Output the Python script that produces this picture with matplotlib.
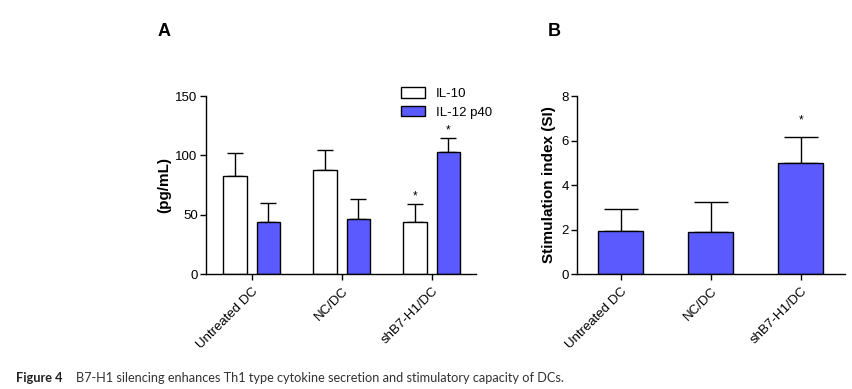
import numpy as np
import matplotlib.pyplot as plt

plt.rcParams['font.family'] = ['Liberation Sans', 'DejaVu Sans']

groups = ["Untreated DC", "NC/DC", "shB7-H1/DC"]

# panel A: cytokines (pg/mL), mean and upper error
il10 = [82.8, 87.4, 44.1]
il10_err = [19.4, 16.8, 14.6]
il12 = [44.1, 46.1, 102.5]
il12_err = [15.5, 16.8, 11.8]

# panel B: stimulation index
si = [1.93, 1.89, 4.99]
si_err = [0.99, 1.35, 1.17]

blue = "#5a5aff"

fig = plt.figure(figsize=(8.53, 3.89), dpi=100)

# ---- panel A
axA = fig.add_axes([0.2415, 0.2956, 0.3165, 0.4576])
x = np.arange(len(groups))
off = 0.185
w = 0.26
axA.bar(x - off, il10, w, color="white", edgecolor="black", linewidth=1, label="IL-10", zorder=2)
axA.bar(x + off, il12, w, color=blue, edgecolor="black", linewidth=1, label="IL-12 p40", zorder=2)
axA.errorbar(x - off, il10, yerr=[np.zeros(3), il10_err], fmt="none", ecolor="black",
             elinewidth=1, capsize=6, capthick=1, zorder=1)
axA.errorbar(x + off, il12, yerr=[np.zeros(3), il12_err], fmt="none", ecolor="black",
             elinewidth=1, capsize=6, capthick=1, zorder=1)
axA.text(2 - off, il10[2] + il10_err[2] + 2, "*", ha="center", va="bottom", fontsize=8.5)
axA.text(2 + off, il12[2] + il12_err[2] + 2, "*", ha="center", va="bottom", fontsize=8.5)
axA.set_ylim(0, 150)
axA.set_yticks([0, 50, 100, 150])
axA.set_xlim(-0.506, 2.49)
axA.set_ylabel("(pg/mL)", fontsize=11, fontweight="bold", labelpad=3)
axA.legend(loc="upper left", bbox_to_anchor=(0.68, 1.115), frameon=False, fontsize=9.5,
           handlelength=1.8, handleheight=0.8, labelspacing=0.45, handletextpad=0.8)
axA.text(-0.18, 1.36, "A", transform=axA.transAxes, fontsize=13, fontweight="bold", va="center")

# ---- panel B
axB = fig.add_axes([0.6764, 0.2956, 0.3142, 0.4576])
axB.bar(x, si, 0.5, color=blue, edgecolor="black", linewidth=1, zorder=2)
axB.errorbar(x, si, yerr=[np.zeros(3), si_err], fmt="none", ecolor="black",
             elinewidth=1, capsize=12, capthick=1, zorder=1)
axB.text(2, si[2] + si_err[2] + 0.45, "*", ha="center", va="bottom", fontsize=8.5)
axB.set_ylim(0, 8)
axB.set_yticks([0, 2, 4, 6, 8])
axB.set_xlim(-0.483, 2.49)
axB.set_ylabel("Stimulation index (SI)", fontsize=11, fontweight="bold", labelpad=4)
axB.text(-0.11, 1.36, "B", transform=axB.transAxes, fontsize=13, fontweight="bold", va="center")

for ax in (axA, axB):
    ax.spines["top"].set_visible(False)
    ax.spines["right"].set_visible(False)
    ax.spines["left"].set_linewidth(1)
    ax.spines["bottom"].set_linewidth(1)
    ax.set_xticks(x)
    ax.set_xticklabels(groups, rotation=45, ha="right", rotation_mode="anchor", fontsize=9.5)
    ax.tick_params(axis="both", direction="out", length=4, width=1, labelsize=9.5, pad=2)
    ax.tick_params(axis="x", pad=4)

fig.text(0.019, 0.018, "Figure 4", fontsize=9.2, fontweight="bold", color="#222222", family="Lato")
fig.text(0.089, 0.018, "B7-H1 silencing enhances Th1 type cytokine secretion and stimulatory capacity of DCs.",
         fontsize=9.2, color="#333333", family="Lato")

fig.savefig("out.png", dpi=100)
